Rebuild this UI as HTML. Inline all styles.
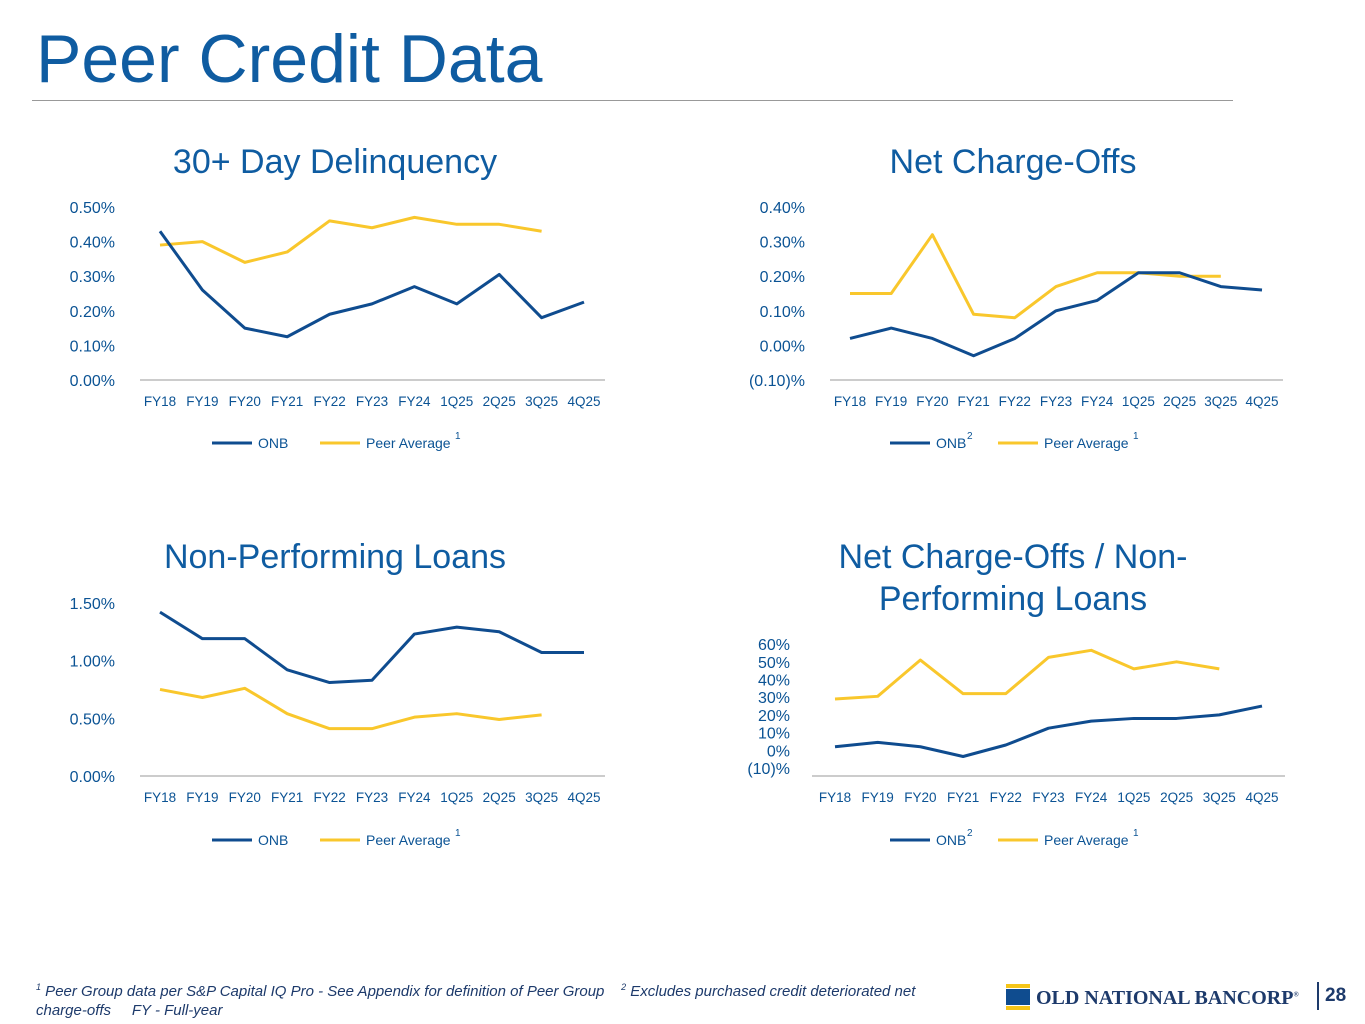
<!DOCTYPE html>
<html><head><meta charset="utf-8"><style>
body{margin:0;width:1365px;height:1024px;background:#fff;font-family:"Liberation Sans",sans-serif;overflow:hidden;position:relative}
.t{position:absolute;color:#0b5394}
</style></head><body>
<div class="t" style="left:36px;top:20px;font-size:68px;color:#0f5ca1">Peer Credit Data</div>
<div style="position:absolute;left:32px;top:100px;width:1201px;height:1px;background:#999"></div>
<svg id="s" width="1365" height="1024" style="position:absolute;left:0;top:0"></svg>
<div style="position:absolute;left:36px;top:978px;width:900px;font-size:15px;font-style:italic;color:#1d3a6b;line-height:19px"><sup style="font-size:9px">1</sup> Peer Group data per S&amp;P Capital IQ Pro - See Appendix for definition of Peer Group &nbsp;&nbsp; <sup style="font-size:9px">2</sup> Excludes purchased credit deteriorated net charge-offs &nbsp;&nbsp;&nbsp; FY - Full-year</div>
<div style="position:absolute;left:1006px;top:984px">
<div style="position:absolute;left:0;top:0;width:24px;height:4px;background:#f5c518"></div>
<div style="position:absolute;left:0;top:5px;width:24px;height:16px;background:#0f4c8f"></div>
<div style="position:absolute;left:0;top:22px;width:24px;height:4px;background:#f5c518"></div>
<div style="position:absolute;left:30px;top:3px;font-family:'Liberation Serif',serif;font-weight:bold;font-size:20px;color:#1d3a6b;white-space:nowrap">OLD NATIONAL BANCORP<sup style="font-size:7px">®</sup></div>
</div>
<div style="position:absolute;left:1317px;top:982px;width:2px;height:28px;background:#1d3a6b"></div>
<div style="position:absolute;left:1325px;top:985px;font-size:19px;font-weight:bold;color:#1d3a6b">28</div>
<script>
const categories=["FY18","FY19","FY20","FY21","FY22","FY23","FY24","1Q25","2Q25","3Q25","4Q25"];
const delinqOnb=[0.43,0.26,0.15,0.125,0.19,0.22,0.27,0.22,0.305,0.18,0.225];
const delinqPeer=[0.39,0.40,0.34,0.37,0.46,0.44,0.47,0.45,0.45,0.43];
const delinqTicks=["0.00%","0.10%","0.20%","0.30%","0.40%","0.50%"];
const ncoOnb=[0.02,0.05,0.02,-0.03,0.02,0.10,0.13,0.21,0.21,0.17,0.16];
const ncoPeer=[0.15,0.15,0.32,0.09,0.08,0.17,0.21,0.21,0.20,0.20];
const ncoTicks=["(0.10)%","0.00%","0.10%","0.20%","0.30%","0.40%"];
const nplOnb=[1.42,1.19,1.19,0.92,0.81,0.83,1.23,1.29,1.25,1.07,1.07];
const nplPeer=[0.75,0.68,0.76,0.54,0.41,0.41,0.51,0.54,0.49,0.53];
const nplTicks=["0.00%","0.50%","1.00%","1.50%"];
const ratioOnb=[2,4.5,2,-3.5,3,12.5,16.5,18,18,20,25];
const ratioPeer=[29,30.5,51,32,32,52.5,56.5,46,50,46];
const ratioTicks=["(10)%","0%","10%","20%","30%","40%","50%","60%"];
const S=document.getElementById('s');const NS='http://www.w3.org/2000/svg';
function el(t,a,p){const e=document.createElementNS(NS,t);for(const k in a)e.setAttribute(k,a[k]);(p||S).appendChild(e);return e;}
function chart(o){
 const g=el('g',{});
 
 
 const x=i=>o.x0+i*(o.x1-o.x0)/(categories.length-1);
 const y=v=>o.yBase-(v-o.vmin)*o.ppu;
 o.title.forEach((t,i)=>{const e=el('text',{x:o.tx,y:o.ty+i*42,'text-anchor':'middle','font-size':34,fill:'#0f5ca1'},g);e.textContent=t;
  
  });
 o.ticks.forEach((t,i)=>{const e=el('text',{x:o.lx,y:y(o.vmin+i*o.step)+6,'text-anchor':'end','font-size':o.tf,fill:'#0b5394'},g);e.textContent=t;
  
  });
 el('line',{x1:o.ax0,x2:o.ax1,y1:o.axisY,y2:o.axisY,stroke:'#999','stroke-width':1},g);
 categories.forEach((c,i)=>{const e=el('text',{x:x(i),y:o.axisY+26,'text-anchor':'middle','font-size':13.5,fill:'#0b5394'},g);e.textContent=c;
  
  });
 [[o.peer,'#f9c72c','peer-average-line'],[o.onb,'#0f4c8f','onb-line']].forEach(([d,c,n])=>{
  const p=el('polyline',{points:d.map((v,i)=>x(i)+','+y(v)).join(' '),fill:'none',stroke:c,'stroke-width':3,'stroke-linejoin':'round'},g);
  
  });
 const ly=o.legY,lx=o.legX;
 el('line',{x1:lx,x2:lx+40,y1:ly,y2:ly,stroke:'#0f4c8f','stroke-width':3},g);
 let e=el('text',{x:lx+46,y:ly+5,'font-size':14,fill:'#0b5394'},g);e.textContent='ONB';
 
 
 if(o.sup2){e=el('text',{x:lx+77,y:ly-4,'font-size':10,fill:'#0b5394'},g);e.textContent='2';}
 el('line',{x1:lx+108,x2:lx+148,y1:ly,y2:ly,stroke:'#f9c72c','stroke-width':3},g);
 e=el('text',{x:lx+154,y:ly+5,'font-size':14,fill:'#0b5394'},g);e.textContent='Peer Average';
 
 
 e=el('text',{x:lx+243,y:ly-4,'font-size':10,fill:'#0b5394'},g);e.textContent='1';
}
chart({name:'delinquency-chart',title:['30+ Day Delinquency'],tx:335,ty:173,x0:160,x1:584,ax0:140,ax1:605,axisY:380,yBase:380,vmin:0,ppu:346,step:0.1,ticks:delinqTicks,lx:115,tf:16,onb:delinqOnb,peer:delinqPeer,legX:212,legY:443});
chart({name:'net-charge-offs-chart',title:['Net Charge-Offs'],tx:1013,ty:173,x0:850,x1:1262,ax0:830,ax1:1283,axisY:380,yBase:380,vmin:-0.1,ppu:346,step:0.1,ticks:ncoTicks,lx:805,tf:16,onb:ncoOnb,peer:ncoPeer,legX:890,legY:443,sup2:1});
chart({name:'npl-chart',title:['Non-Performing Loans'],tx:335,ty:568,x0:160,x1:584,ax0:140,ax1:605,axisY:776,yBase:776,vmin:0,ppu:115.4,step:0.5,ticks:nplTicks,lx:115,tf:16,onb:nplOnb,peer:nplPeer,legX:212,legY:840});
chart({name:'nco-npl-chart',title:['Net Charge-Offs / Non-','Performing Loans'],tx:1013,ty:568,x0:835,x1:1262,ax0:812,ax1:1285,axisY:776,yBase:768,vmin:-10,ppu:1.77,step:10,ticks:ratioTicks,lx:790,tf:16,onb:ratioOnb,peer:ratioPeer,legX:890,legY:840,sup2:1});
</script>
</body></html>
